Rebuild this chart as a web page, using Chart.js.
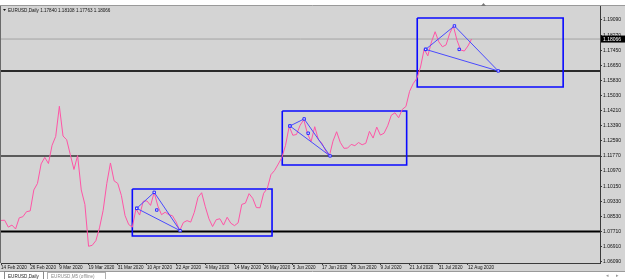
<!DOCTYPE html>
<html><head><meta charset="utf-8">
<script src="https://cdn.jsdelivr.net/npm/chart.js@4/dist/chart.umd.min.js"></script>
<style>html,body{margin:0;padding:0;background:#fff;}canvas{display:block;}</style>
</head><body>
<canvas id="c" width="625" height="279"></canvas>
<script>
// ---- data ----
const tickBars = [0, 8, 16, 24, 32, 40, 48, 56, 64, 72, 80, 88, 96, 104, 112, 120, 128];
const tickLabels = ['14 Feb 2020','26 Feb 2020','9 Mar 2020','19 Mar 2020','31 Mar 2020','10 Apr 2020','22 Apr 2020','4 May 2020','14 May 2020','26 May 2020','5 Jun 2020','17 Jun 2020','29 Jun 2020','9 Jul 2020','21 Jul 2020','31 Jul 2020','12 Aug 2020'];
const closes = [
 1.0831,1.0832,1.0795,1.0806,1.0785,1.0845,1.0851,1.0878,1.0882,1.0995,
 1.1030,1.1135,1.1170,1.1137,1.1235,1.1283,1.1445,1.1285,1.1265,1.1185,
 1.1105,1.1180,1.0995,1.0917,1.0692,1.0697,1.0722,1.0791,1.0885,1.1030,
 1.1140,1.1044,1.1030,1.0965,1.0857,1.0809,1.0795,1.0893,1.0860,1.0934,
 1.0936,1.0912,1.0982,1.0908,1.0862,1.0875,1.0862,1.0856,1.0823,1.0777,
 1.0820,1.0830,1.0822,1.0875,1.0955,1.0980,1.0905,1.0840,1.0798,1.0835,
 1.0840,1.0806,1.0848,1.0816,1.0803,1.0818,1.0917,1.0924,1.0975,1.0950,
 1.0900,1.0899,1.0977,1.1003,1.1077,1.1100,1.1134,1.1170,1.1235,1.1337,
 1.1289,1.1293,1.1343,1.1373,1.1298,1.1255,1.1335,1.1266,1.1245,1.1205,
 1.1177,1.1257,1.1308,1.1251,1.1219,1.1220,1.1240,1.1233,1.1250,1.1238,
 1.1246,1.1310,1.1274,1.1333,1.1290,1.1300,1.1340,1.1397,1.1410,1.1383,
 1.1428,1.1444,1.1525,1.1567,1.1595,1.1656,1.1752,1.1716,1.1791,1.1846,
 1.1792,1.1765,1.1775,1.1837,1.1877,1.1800,1.1748,1.1742,1.1769,1.18066
];
const priceTicks = [1.19090,1.18270,1.17450,1.16650,1.15830,1.15030,1.14210,1.13390,1.12590,1.11770,1.10970,1.10150,1.09330,1.08530,1.07710,1.06910,1.06090];
const levels = [1.1635, 1.1177, 1.0771];
const lastPrice = 1.18066;
const header = 'EURUSD,Daily 1.17840 1.18108 1.17763 1.18066';
const boxBars = [[36.0, 74.3], [77.1, 111.2], [114.1, 154.1]];
const boxPrices = [[1.1000, 1.0747], [1.14195, 1.11291], [1.19198, 1.15486]];
const triBars = [[37.2, 42.0, 49.1], [79.2, 83.1, 90.2], [116.4, 124.3, 136.3]];
const triPrices = [[1.0896, 1.0982, 1.0776], [1.1339, 1.1377, 1.1178], [1.1751, 1.1877, 1.1635]];
const triMidBars = [42.7, 84.2, 125.6];
const triMidPrices = [1.0887, 1.1300, 1.1751];

// ---- chart ----
const X_MAX = 164.2, Y_MIN = 1.06020, Y_MAX = 1.19843;
const FONT = '"Liberation Sans", Arial, sans-serif';
const datasets = [];
datasets.push({data: closes.map((v,i)=>({x:i,y:v})), borderColor:'#ff55a6', borderWidth:1, pointRadius:0, tension:0, order:1});
triBars.forEach((tb,k)=>{
  const pts = [0,1,2,0].map(j=>({x:tb[j], y:triPrices[k][j]}));
  datasets.push({data:pts, borderColor:'#4a4aff', borderWidth:1, pointRadius:1.7, pointStyle:'rect',
    pointBackgroundColor:'#e6e6ff', pointBorderColor:'#2a2aff', pointBorderWidth:1, tension:0, order:0});
});
datasets.push({data: triMidBars.map((b,k)=>({x:b,y:triMidPrices[k]})), showLine:false, pointRadius:1.7, pointStyle:'rect',
  pointBackgroundColor:'#e6e6ff', pointBorderColor:'#2a2aff', pointBorderWidth:1, order:0});
boxBars.forEach((bb,k)=>{
  const [x0,x1] = bb, [p0,p1] = boxPrices[k];
  datasets.push({data:[{x:x0,y:p0},{x:x1,y:p0},{x:x1,y:p1},{x:x0,y:p1},{x:x0,y:p0}], borderColor:'#0a0aff', borderWidth:1.6, pointRadius:0, tension:0, order:2});
});
const levelColors = ['#2a2a2a', '#5a5a5a', '#000000'];
levels.forEach((L,k)=>{
  datasets.push({data:[{x:0,y:L},{x:X_MAX,y:L}], borderColor:levelColors[k], borderWidth:2, pointRadius:0, order:3});
});
datasets.push({data:[{x:0,y:lastPrice},{x:X_MAX,y:lastPrice}], borderColor:'#a4a4a4', borderWidth:1, pointRadius:0, order:4});

const deco = {
  id:'deco',
  beforeDraw(chart){
    const c = chart.ctx;
    c.save();
    c.fillStyle = '#ffffff'; c.fillRect(0,0,625,279);
    c.fillStyle = '#d4d4d4'; c.fillRect(0,5,625,266);
    c.strokeStyle = '#9a9a9a'; c.lineWidth = 1;
    c.beginPath(); c.moveTo(0,5.5); c.lineTo(625,5.5); c.stroke();
    c.beginPath(); c.moveTo(0,271.5); c.lineTo(625,271.5); c.stroke();
    c.restore();
  },
  afterDraw(chart){
    const c = chart.ctx, ys = chart.scales.y, ca = chart.chartArea;
    c.save();
    c.strokeStyle = '#6a6a6a'; c.lineWidth = 1;
    c.beginPath(); c.moveTo(0.5,6); c.lineTo(0.5,ca.bottom); c.stroke();
    c.fillStyle = '#111';
    c.font = '4.6px ' + FONT;
    c.textBaseline = 'middle';
    c.beginPath(); c.moveTo(3,9); c.lineTo(6,9); c.lineTo(4.5,11); c.closePath(); c.fill();
    c.fillText(header, 8, 10.5);
    const y = ys.getPixelForValue(lastPrice);
    c.fillStyle = '#000'; c.fillRect(ca.right+1, y-3.5, 24, 7);
    c.font = '5px ' + FONT;
    c.fillStyle = '#fff'; c.fillText(lastPrice.toFixed(5), ca.right+3, y+0.3);
    c.fillStyle = '#777';
    c.beginPath(); c.moveTo(481,6); c.lineTo(486,6); c.lineTo(483.5,3); c.closePath(); c.fill();
    c.fillStyle = '#fff'; c.fillRect(0,272,625,7);
    c.strokeStyle = '#8a8a8a';
    c.strokeRect(4.5,271.5,39,8);
    c.strokeStyle = '#b0b0b0';
    c.strokeRect(47.5,272.5,58,7);
    c.font = '4.6px ' + FONT;
    c.fillStyle = '#222'; c.fillText('EURUSD,Daily', 8, 276.5);
    c.fillStyle = '#888'; c.fillText('EURUSD,M5 (offline)', 51, 276.5);
    c.fillStyle = '#999'; c.fillText('\u25C2', 606, 276); c.fillText('\u25B8', 616, 276);
    c.restore();
  }
};

new Chart(document.getElementById('c'), {
  type:'line',
  data:{datasets},
  options:{
    responsive:false, animation:false, devicePixelRatio:1,
    layout:{autoPadding:false, padding:{left:1, top:6, right:0, bottom:8}},
    plugins:{legend:{display:false}, tooltip:{enabled:false}},
    scales:{
      x:{type:'linear', position:'bottom', min:0, max:X_MAX,
        afterBuildTicks(s){ s.ticks = tickBars.map(v=>({value:v})); },
        afterFit(s){ s.height = 8; s.paddingLeft = 0; s.paddingRight = 0; },
        border:{display:true, color:'#3a3a3a', width:1},
        grid:{drawOnChartArea:false, tickLength:2, color:'#3a3a3a'},
        ticks:{autoSkip:false, maxRotation:0, align:'start', padding:0, color:'#111',
          font:{size:4.6, family:FONT},
          callback:(v,i)=>tickLabels[i]}
      },
      y:{type:'linear', position:'right', min:Y_MIN, max:Y_MAX,
        afterBuildTicks(s){ s.ticks = priceTicks.map(v=>({value:v})); },
        afterFit(s){ s.width = 25; s.paddingTop = 0; s.paddingBottom = 0; },
        border:{display:true, color:'#3a3a3a', width:1},
        grid:{drawOnChartArea:false, tickLength:2, color:'#3a3a3a'},
        ticks:{autoSkip:false, padding:1, color:'#111',
          font:{size:5, family:FONT},
          callback:(v)=>Number(v).toFixed(5)}
      }
    }
  },
  plugins:[deco]
});
</script>
</body></html>
